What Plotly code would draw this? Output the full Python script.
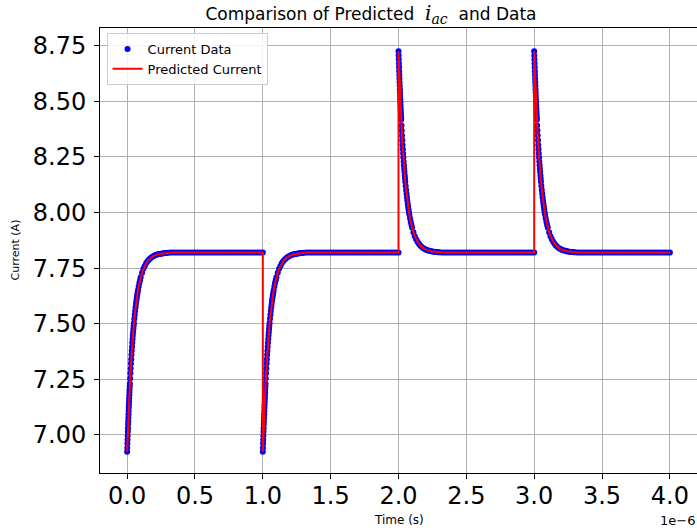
import plotly.graph_objects as go

# ---------------- data ----------------
segment_starts_us = [0.0, 1.0, 2.0, 3.0]
segment_shapes = ["rise", "rise", "decay", "decay"]

# sample offsets inside each 1 µs segment (µs)
offsets_us = [
    0.000, 0.001, 0.002, 0.003, 0.004, 0.005, 0.006, 0.007, 0.008, 0.009,
    0.010, 0.011, 0.012, 0.013, 0.014, 0.015, 0.016, 0.017, 0.018, 0.019, 0.020,
    0.022, 0.024, 0.026, 0.028, 0.030, 0.032, 0.034, 0.036, 0.038, 0.040,
    0.042, 0.044, 0.046, 0.048, 0.050,
    0.053, 0.056, 0.059, 0.062, 0.065, 0.068, 0.071, 0.074, 0.077, 0.080,
    0.085, 0.090, 0.095, 0.100,
    0.11, 0.12, 0.13, 0.14, 0.15, 0.16, 0.17, 0.18, 0.19, 0.20,
    0.21, 0.22, 0.23, 0.24, 0.25, 0.26, 0.27, 0.28, 0.29, 0.30,
    0.32, 0.34, 0.36, 0.38, 0.40, 0.42, 0.44, 0.46, 0.48, 0.50,
    0.52, 0.54, 0.56, 0.58, 0.60, 0.62, 0.64, 0.66, 0.68, 0.70,
    0.72, 0.74, 0.76, 0.78, 0.80, 0.82, 0.84, 0.86, 0.88, 0.90,
    0.92, 0.94, 0.96, 0.98, 1.00,
]

# current (A) during a recovering segment (after a drop)
rise_current = [
    6.925, 6.943, 6.962, 6.979, 6.997, 7.014, 7.030, 7.047, 7.062, 7.078,
    7.093, 7.108, 7.123, 7.137, 7.151, 7.165, 7.179, 7.192, 7.205, 7.218, 7.230,
    7.254, 7.277, 7.299, 7.321, 7.341, 7.361, 7.379, 7.397, 7.415, 7.431,
    7.447, 7.462, 7.477, 7.491, 7.504,
    7.523, 7.541, 7.558, 7.574, 7.589, 7.603, 7.616, 7.628, 7.640, 7.651,
    7.668, 7.683, 7.696, 7.709,
    7.730, 7.747, 7.760, 7.772, 7.781, 7.788, 7.794, 7.799, 7.803, 7.806,
    7.809, 7.811, 7.813, 7.814, 7.815, 7.816, 7.817, 7.818, 7.818, 7.819,
    7.820, 7.820, 7.820, 7.820, 7.820, 7.820, 7.820, 7.820, 7.820, 7.820,
    7.820, 7.820, 7.820, 7.820, 7.820, 7.820, 7.820, 7.820, 7.820, 7.820,
    7.820, 7.820, 7.820, 7.820, 7.820, 7.820, 7.820, 7.820, 7.820, 7.820,
    7.820, 7.820, 7.820, 7.820, 7.820,
]

# current (A) during a decaying segment (after a spike)
decay_current = [
    8.725, 8.706, 8.688, 8.670, 8.653, 8.636, 8.619, 8.602, 8.586, 8.570,
    8.555, 8.540, 8.525, 8.510, 8.496, 8.482, 8.468, 8.455, 8.442, 8.429, 8.417,
    8.392, 8.369, 8.347, 8.325, 8.304, 8.285, 8.266, 8.248, 8.230, 8.213,
    8.197, 8.182, 8.167, 8.153, 8.139,
    8.120, 8.102, 8.085, 8.069, 8.054, 8.040, 8.026, 8.014, 8.002, 7.991,
    7.974, 7.959, 7.945, 7.933,
    7.912, 7.894, 7.880, 7.869, 7.860, 7.852, 7.846, 7.841, 7.837, 7.834,
    7.831, 7.829, 7.828, 7.826, 7.825, 7.824, 7.823, 7.823, 7.822, 7.822,
    7.820, 7.820, 7.820, 7.820, 7.820, 7.820, 7.820, 7.820, 7.820, 7.820,
    7.820, 7.820, 7.820, 7.820, 7.820, 7.820, 7.820, 7.820, 7.820, 7.820,
    7.820, 7.820, 7.820, 7.820, 7.820, 7.820, 7.820, 7.820, 7.820, 7.820,
    7.820, 7.820, 7.820, 7.820, 7.820,
]

# the prediction overlays the data (visually identical in the reference)
predicted_rise = rise_current
predicted_decay = decay_current

x_tick_values = [0.0, 0.5, 1.0, 1.5, 2.0, 2.5, 3.0, 3.5, 4.0]
x_tick_labels = ["0.0", "0.5", "1.0", "1.5", "2.0", "2.5", "3.0", "3.5", "4.0"]
y_tick_values = [7.00, 7.25, 7.50, 7.75, 8.00, 8.25, 8.50, 8.75]
y_tick_labels = ["7.00", "7.25", "7.50", "7.75", "8.00", "8.25", "8.50", "8.75"]

assert len(offsets_us) == len(rise_current) == len(decay_current)

# ---------------- assemble series ----------------
time_us, current_data, current_pred = [], [], []
for start, shape in zip(segment_starts_us, segment_shapes):
    data_vals = rise_current if shape == "rise" else decay_current
    pred_vals = predicted_rise if shape == "rise" else predicted_decay
    time_us.extend(start + o for o in offsets_us)
    current_data.extend(data_vals)
    current_pred.extend(pred_vals)

FONT = "DejaVu Sans"

fig = go.Figure()
fig.add_trace(go.Scatter(
    x=time_us, y=current_data, mode="markers", name="Current Data",
    marker=dict(color="#0000ff", size=6, line=dict(width=0)),
))
fig.add_trace(go.Scatter(
    x=time_us, y=current_pred, mode="lines", name="Predicted Current",
    line=dict(color="#ff0000", width=2),
))

axis_common = dict(
    showline=True, linecolor="black", linewidth=1, mirror=True,
    ticks="outside", ticklen=5, tickwidth=1, tickcolor="black",
    showgrid=True, gridcolor="#b0b0b0", gridwidth=1, zeroline=False,
    tickfont=dict(family=FONT, size=24, color="black"),
)

fig.update_layout(
    width=697, height=530,
    margin=dict(l=100, r=0, t=28, b=57, pad=0),
    paper_bgcolor="white", plot_bgcolor="white",
    font=dict(family=FONT, color="black"),
    title=dict(
        text=("Comparison of Predicted  <span style='font-family:DejaVu Serif;font-size:20px'>"
              "<i>i</i><sub><i>ac</i></sub></span>  and Data"),
        x=371 / 697, xanchor="center", y=1 - 14 / 530, yanchor="middle",
        font=dict(family=FONT, size=17, color="black"),
    ),
    xaxis=dict(range=[-0.2, 4.2], tickvals=x_tick_values, ticktext=x_tick_labels,
               ticklabelstandoff=-4, **axis_common),
    yaxis=dict(range=[6.829, 8.83], tickvals=y_tick_values, ticktext=y_tick_labels,
               ticklabelstandoff=3, **axis_common),
    showlegend=True,
    legend=dict(
        x=0.011, y=(473 - 33) / 445, xanchor="left", yanchor="top",
        bgcolor="rgba(255,255,255,0.85)", bordercolor="#cccccc", borderwidth=1,
        font=dict(family=FONT, size=13, color="black"),
    ),
    annotations=[
        dict(text="Time (s)", xref="paper", yref="paper", x=0.5, y=(473 - 520) / 445,
             xanchor="center", yanchor="middle", showarrow=False,
             font=dict(family=FONT, size=12, color="black")),
        dict(text="Current (A)", xref="paper", yref="paper", x=(15 - 100) / 597, y=0.5,
             xanchor="center", yanchor="middle", textangle=-90, showarrow=False,
             font=dict(family=FONT, size=11, color="black")),
        dict(text="1e\u22126", xref="paper", yref="paper", x=1.0, y=(473 - 520) / 445,
             xanchor="right", yanchor="middle", showarrow=False,
             font=dict(family=FONT, size=13, color="black")),
    ],
)

fig.write_html("out.html")
